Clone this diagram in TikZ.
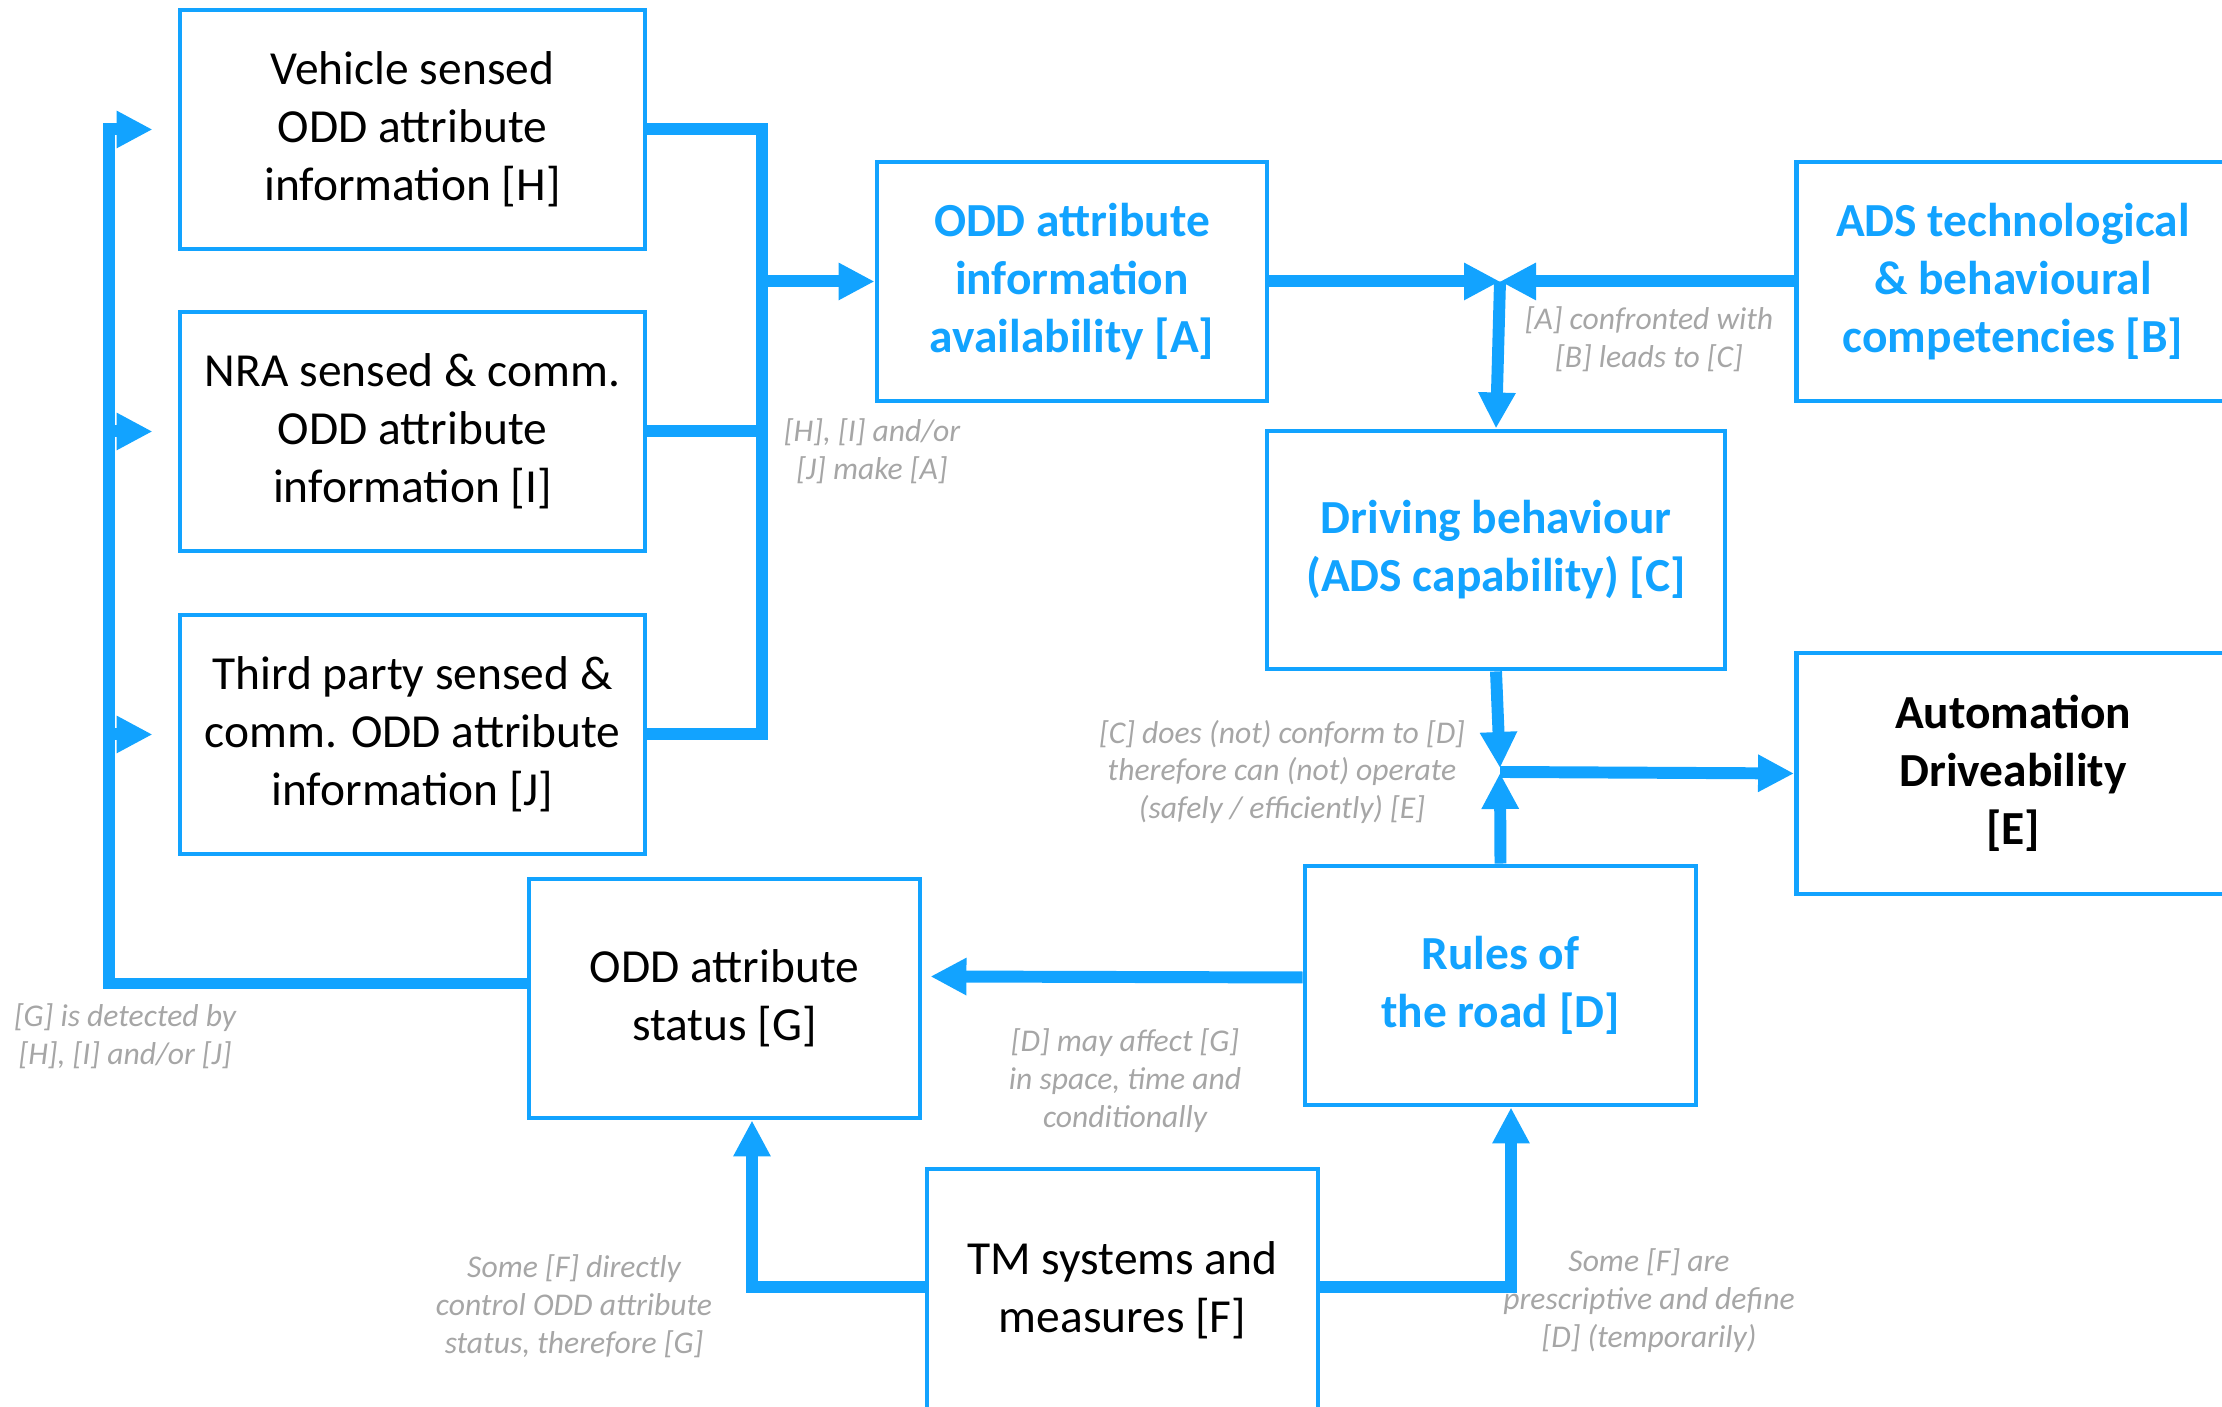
\documentclass[tikz,border=0pt]{standalone}
\usepackage{fontspec}
\setmainfont{Carlito}
\usepackage{tikz}
\usetikzlibrary{arrows.meta}

\definecolor{oddblue}{RGB}{18,163,255}
\definecolor{notegray}{RGB}{166,166,166}

\tikzset{
  box/.style={draw=oddblue, line width=1.4pt, align=center, inner sep=0pt,
    minimum height=2.39cm, font=\fontsize{13.5}{16.5}\selectfont},
  keybox/.style={box, text=oddblue, font=\fontsize{13.5}{16.5}\selectfont\bfseries},
  note/.style={text=notegray, align=center, inner sep=0pt,
    font=\fontsize{9}{10.8}\selectfont\itshape},
  wire/.style={draw=oddblue, line width=3.4pt},
  tip/.style={-{Triangle[length=3.6mm, width=3.5mm]}}
}

\begin{document}
\begin{tikzpicture}
    \path[use as bounding box, clip] (0,0) rectangle (22.22,14.07);

    \node[box, minimum width=4.65cm] (H) at (4.125,12.775) {Vehicle sensed\\ODD attribute\\information [H]};
    \node[box, minimum width=4.65cm] (I) at (4.125,9.755) {NRA sensed \& comm.\\ODD attribute\\information [I]};
    \node[box, minimum width=4.65cm] (J) at (4.125,6.725) {Third party sensed \&\\comm. ODD attribute\\information [J]};
    \node[keybox, minimum width=3.90cm] (A) at (10.72,11.255) {ODD attribute\\information\\availability [A]};
    \node[keybox, minimum width=4.33cm] (B) at (20.13,11.255) {ADS technological\\\& behavioural\\competencies [B]};
    \node[keybox, minimum width=4.58cm, minimum height=2.38cm] (C) at (14.96,8.57) {Driving behaviour\\(ADS capability) [C]};
    \node[box, minimum width=4.33cm, minimum height=2.41cm, font=\fontsize{13.5}{16.5}\selectfont\bfseries] (E) at (20.13,6.335) {Automation\\Driveability\\{}[E]};
    \node[keybox, minimum width=3.91cm] (D) at (15.005,4.215) {Rules of\\the road [D]};
    \node[box, minimum width=3.91cm] (G) at (7.245,4.085) {ODD attribute\\status [G]};
    \node[box, minimum width=3.91cm, minimum height=2.42cm] (F) at (11.225,1.17) {TM systems and\\measures [F]};

    \coordinate (busR) at (7.62,9.755);
    \coordinate (busL) at (1.09,12.775);
    \coordinate (hIn) at ([xshift=-2.5mm]H.west);
    \coordinate (iIn) at ([xshift=-2.5mm]I.west);
    \coordinate (jIn) at ([xshift=-2.5mm]J.west);
    \coordinate (jAB) at (15.0,11.255);
    \coordinate (jCD) at (15.0,6.35);

    \draw[wire] (H.east) -| (busR) |- (J.east);
    \draw[wire] (I.east) -- (I.east -| busR);
    \draw[wire, tip] (busR |- A.west) -- (A.west);

    \draw[wire, tip] ([yshift=1.5mm]G.west) -| (busL) |- (hIn);
    \draw[wire, tip] (busL |- iIn) -- (iIn);
    \draw[wire, tip] (busL |- jIn) -- (jIn);

    \draw[wire, tip] (A.east) -- (jAB);
    \draw[wire, tip] (B.west) -- (jAB);
    \draw[wire, tip] (jAB) -- (C.north);

    \draw[wire, tip] (C.south) -- ([yshift=0.4mm]jCD);
    \draw[wire, tip] (D.north) -- ([yshift=-0.1mm]jCD);
    \draw[wire, tip] (jCD) -- (E.west);

    \draw[wire, tip] ([yshift=0.8mm]D.west) -- ([xshift=0.8mm,yshift=2.2mm]G.east);
    \draw[wire, tip] ([yshift=0.3mm]F.west) -| ([xshift=2.75mm]G.south);
    \draw[wire, tip] ([yshift=0.3mm]F.east) -| ([xshift=1.05mm]D.south);

    \node[note] (nHIJ) at (8.72,9.56) {[H], [I] and/or\\{}[J] make [A]};
    \node[note] (nAB) at (16.49,10.68) {[A] confronted with\\{}[B] leads to [C]};
    \node[note] (nCD) at (12.82,6.35) {[C] does (not) conform to [D]\\therefore can (not) operate\\(safely / efficiently) [E]};
    \node[note] (nG) at (1.25,3.71) {[G] is detected by\\{}[H], [I] and/or [J]};
    \node[note] (nDG) at (11.25,3.26) {[D] may affect [G]\\in space, time and\\conditionally};
    \node[note] (nFG) at (5.74,1.01) {Some [F] directly\\control ODD attribute\\status, therefore [G]};
    \node[note] (nFD) at (16.49,1.06) {Some [F] are\\prescriptive and define\\{}[D] (temporarily)};
\end{tikzpicture}
\end{document}
